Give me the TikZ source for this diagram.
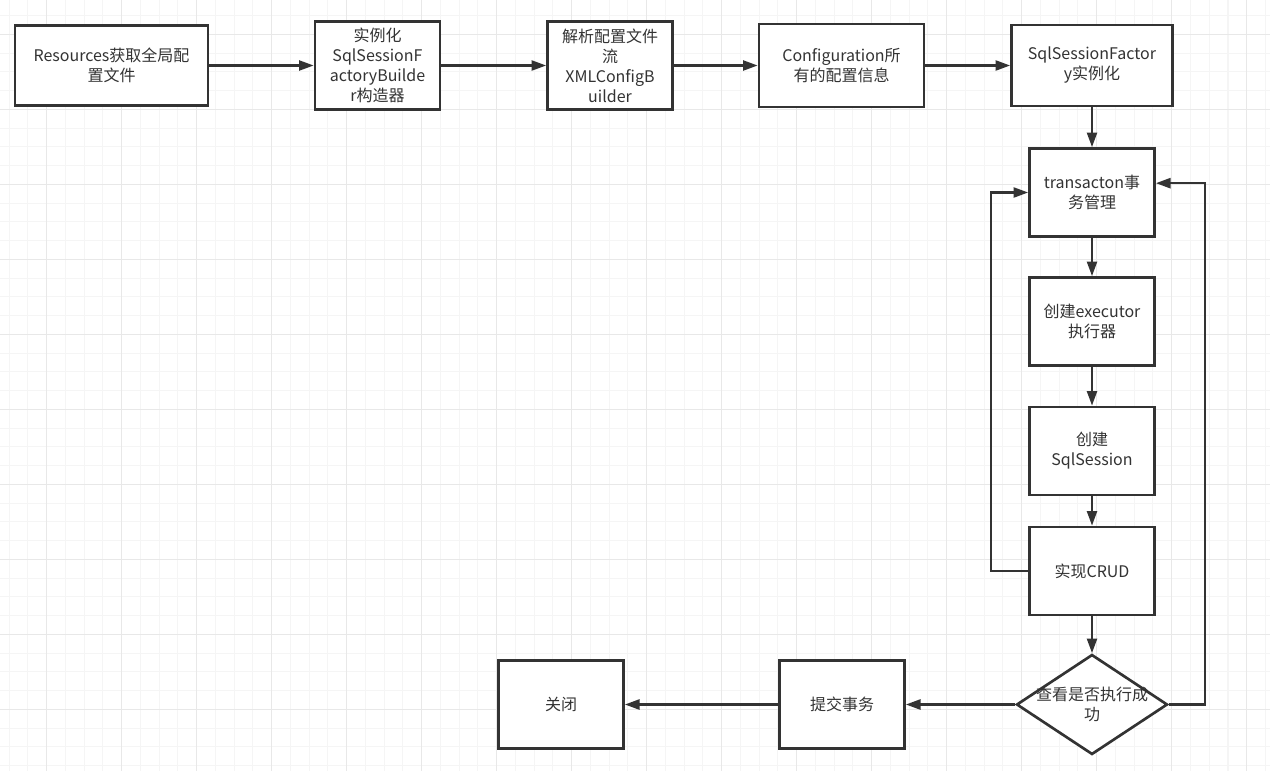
\documentclass[tikz,border=0pt]{standalone}
\usepackage{fontspec}
\newfontfamily\cjk{Noto Sans CJK SC}
\usetikzlibrary{shapes.geometric,arrows.meta,positioning}
\definecolor{ink}{HTML}{333333}
\definecolor{gridminor}{HTML}{F5F5F5}
\definecolor{gridmajor}{HTML}{E8E8E8}

\begin{document}
\begin{tikzpicture}[x=0.75pt, y=-0.75pt,
  stepbox/.style={rectangle, draw=ink, line width=2pt, fill=white,
    font=\cjk\fontsize{12pt}{15pt}\selectfont, align=center,
    text=ink, minimum width=93.75pt, minimum height=66pt, inner sep=2pt},
  decision/.style={diamond, draw=ink, line width=2pt, fill=white,
    minimum width=113.25pt, minimum height=75pt, inner sep=0pt},
  lbl/.style={font=\cjk\fontsize{12pt}{15pt}\selectfont, align=center, text=ink},
  arr/.style={-{Triangle[length=11pt, width=7.5pt]}, draw=ink, line width=1.8pt},
  minor/.style={draw=gridminor, line width=0.8pt},
  major/.style={draw=gridmajor, line width=0.8pt}
]
  \useasboundingbox[fill=white] (0,0) rectangle (1270,771);
  % background grid
  \foreach \i in {0,...,67} {\draw[minor] ({9.2+18.75*\i},0) -- ++(0,771);}
  \foreach \i in {0,...,40} {\draw[minor] (0,{15.55+18.75*\i}) -- ++(1270,0);}
  \foreach \i in {0,...,16} {\draw[major] ({46.7+75*\i},0) -- ++(0,771);}
  \foreach \i in {0,...,9}  {\draw[major] (0,{34.3+75*\i}) -- ++(1270,0);}

  % top row
  \node[stepbox, minimum width=144.75pt, minimum height=60pt] (res) at (111.5,65.5)
    {Resources获取全局配\\置文件};
  \node[stepbox] (builder) at (377.5,65.5) {实例化\\SqlSessionF\\actoryBuilde\\r构造器};
  \node[stepbox] (parser) at (610,65.5) {解析配置文件\\流\\XMLConfigB\\uilder};
  \node[stepbox, minimum width=123.75pt, minimum height=62.25pt] (config) at (841.5,65.5)
    {Configuration所\\有的配置信息};
  \node[stepbox, minimum width=120.75pt, minimum height=60.75pt] (factory) at (1092,65.5)
    {SqlSessionFactor\\y实例化};

  % right column
  \node[stepbox] (trans) at (1092,192.5) {transacton事\\务管理};
  \node[stepbox] (exec) at (1092,321.5) {创建executor\\执行器};
  \node[stepbox] (sess) at (1092,451) {创建\\SqlSession};
  \node[stepbox] (crud) at (1092,571) {实现CRUD};
  \node[decision] (check) at (1092,704.5) {};
  \node[lbl] (checktxt) at (check) {查看是否执行成\\功};

  % bottom row
  \node[stepbox] (commit) at (842,704.5) {提交事务};
  \node[stepbox] (close) at (561,704.5) {关闭};

  \draw[arr] (res) -- (builder);
  \draw[arr] (builder) -- (parser);
  \draw[arr] (parser) -- (config);
  \draw[arr] (config) -- (factory);
  \draw[arr] (factory) -- (trans);
  \draw[arr] (trans) -- (exec);
  \draw[arr] (exec) -- (sess);
  \draw[arr] (sess) -- (crud);
  \draw[arr] (crud) -- (check);
  \draw[arr] (check) -- (commit);
  \draw[arr] (commit) -- (close);
  % loops back to the transaction
  \draw[arr] (crud.west) -- ++(-37,0) |- (trans.west);
  \draw[arr] (check.east) -- ++(36,0) |- ([yshift=7pt]trans.east);
\end{tikzpicture}
\end{document}
